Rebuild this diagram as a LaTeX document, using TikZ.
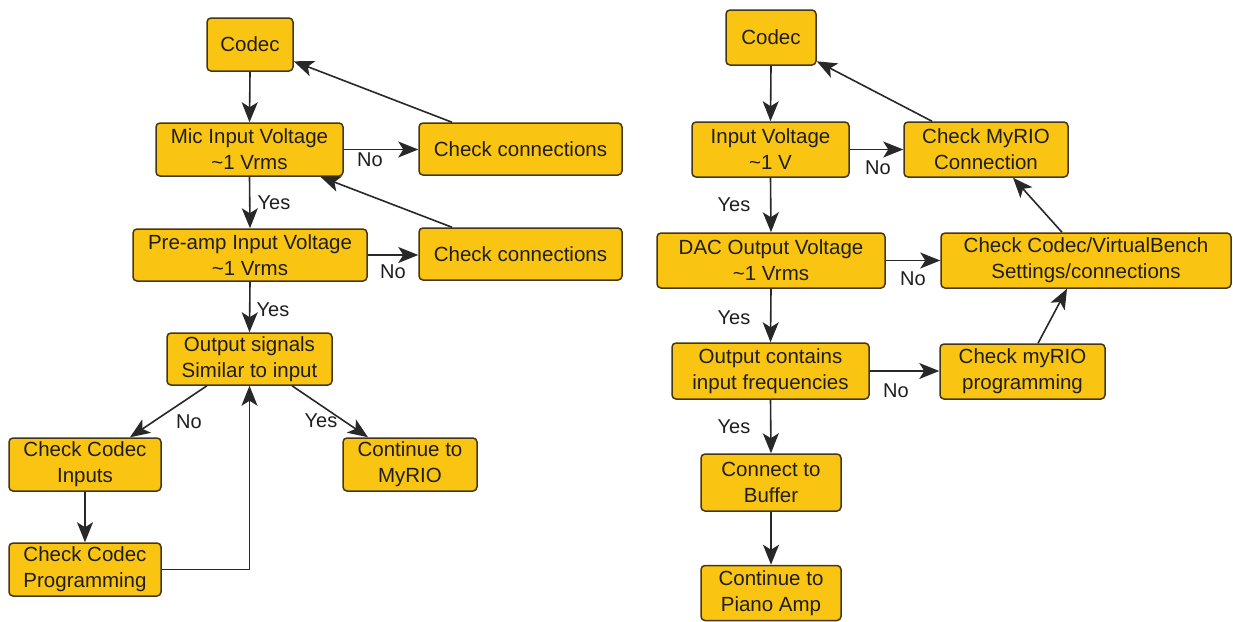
\documentclass[tikz,border=0pt]{standalone}
\usepackage{fontspec}
\setmainfont{Liberation Sans}
\usetikzlibrary{arrows.meta,calc}
\definecolor{boxfill}{RGB}{250,196,18}
\definecolor{boxline}{RGB}{70,55,20}
\definecolor{arrowcol}{RGB}{40,40,40}
\definecolor{txt}{RGB}{30,30,30}
\begin{document}
\begin{tikzpicture}[x=1pt,y=-1pt,
  box/.style={draw=boxline, fill=boxfill, line width=1.5pt, rounded corners=4pt,
    align=center, inner sep=0pt, text=txt, font=\fontsize{20.5}{26}\selectfont,
    minimum height=53pt},
  conn/.style={draw=arrowcol, line width=1.6pt, arrows={-Stealth[length=20pt,width=16pt,inset=5pt]}},
  lbl/.style={text=txt, font=\fontsize{20}{24}\selectfont, inner sep=0pt}]
\useasboundingbox (0,0) rectangle (1233,621);
\fill[white] (0,0) rectangle (1233,621);

% ---- left flowchart ----
\node[box, minimum width=86pt] (codecL) at (250,44.5) {Codec};
\node[box, minimum width=187pt] (micL) at (249.5,149.5) {Mic Input Voltage\\\textasciitilde 1 Vrms};
\node[box, minimum width=203pt, minimum height=52pt] (cc1) at (520.5,149) {Check connections};
\node[box, minimum width=234pt, minimum height=52pt] (pre) at (250,255) {Pre-amp Input Voltage\\\textasciitilde 1 Vrms};
\node[box, minimum width=203pt, minimum height=52pt] (cc2) at (520.5,254) {Check connections};
\node[box, minimum width=165pt, minimum height=52pt] (outL) at (249.5,359) {Output signals\\Similar to input};
\node[box, minimum width=152pt] (cci) at (85,464.5) {Check Codec\\Inputs};
\node[box, minimum width=152pt] (ccp) at (85,569.5) {Check Codec\\Programming};
\node[box, minimum width=134pt] (cmy) at (410,464.5) {Continue to\\MyRIO};

\draw[conn] (codecL.south) -- (micL.north);
\draw[conn] (micL.east) -- (micL.east -| cc1.west);
\draw[conn] ([xshift=-68.5pt]cc1.north) -- (codecL);
\draw[conn] (micL.south) -- (pre.north);
\draw[conn] (pre.east) -- (pre.east -| cc2.west);
\draw[conn] ([xshift=-68.5pt]cc2.north) -- (micL);
\draw[conn] (pre.south) -- (outL.north);
\draw[conn] ([xshift=-42.5pt]outL.south) -- ([xshift=45pt]cci.north);
\draw[conn] ([xshift=42.5pt]outL.south) -- ([xshift=-42pt]cmy.north);
\draw[conn] (cci.south) -- (ccp.north);
\draw[conn] (ccp.east) -| (outL.south);

\node[lbl] (l1) at (370,160) {No};
\node[lbl] (l2) at (274,203) {Yes};
\node[lbl] (l3) at (393,272) {No};
\node[lbl] (l4) at (273,310) {Yes};
\node[lbl] (l5) at (189,422) {No};
\node[lbl] (l6) at (321,421) {Yes};

% ---- right flowchart ----
\node[box, minimum width=90pt, minimum height=55pt] (codecR) at (771,37.5) {Codec};
\node[box, minimum width=157pt, minimum height=55pt] (inV) at (770.5,149.5) {Input Voltage\\\textasciitilde 1 V};
\node[box, minimum width=164pt, minimum height=55pt] (cmc) at (986,149.5) {Check MyRIO\\Connection};
\node[box, minimum width=228pt, minimum height=55pt] (dac) at (771,260.5) {DAC Output Voltage\\\textasciitilde 1 Vrms};
\node[box, minimum width=290pt, minimum height=55pt] (ccvb) at (1086,260.5) {Check Codec/VirtualBench\\Settings/connections};
\node[box, minimum width=197pt, minimum height=56pt] (ocf) at (770.5,371) {Output contains\\input frequencies};
\node[box, minimum width=165pt, minimum height=55pt] (cmp) at (1022.5,371.5) {Check myRIO\\programming};
\node[box, minimum width=140pt, minimum height=57pt] (buf) at (771,482.5) {Connect to\\Buffer};
\node[box, minimum width=140pt, minimum height=55pt] (piano) at (771,593) {Continue to\\Piano Amp};

\draw[conn] (codecR.south) -- (inV.north);
\draw[conn] (inV.east) -- (inV.east -| cmc.west);
\draw[conn] ([xshift=-54pt]cmc.north) -- (codecR);
\draw[conn] (inV.south) -- (dac.north);
\draw[conn] (dac.east) -- (dac.east -| ccvb.west);
\draw[conn] ([xshift=-24pt]ccvb.north) -- ([xshift=27pt]cmc.south);
\draw[conn] (dac.south) -- (ocf.north);
\draw[conn] (ocf.east) -- (ocf.east -| cmp.west);
\draw[conn] ([xshift=15.5pt]cmp.north) -- ([xshift=-19pt]ccvb.south);
\draw[conn] (ocf.south) -- (buf.north);
\draw[conn] (buf.south) -- (piano.north);

\node[lbl] (r1) at (878,168) {No};
\node[lbl] (r2) at (734,205) {Yes};
\node[lbl] (r3) at (913,279) {No};
\node[lbl] (r4) at (734,318) {Yes};
\node[lbl] (r5) at (896,391) {No};
\node[lbl] (r6) at (734,427) {Yes};
\end{tikzpicture}
\end{document}
